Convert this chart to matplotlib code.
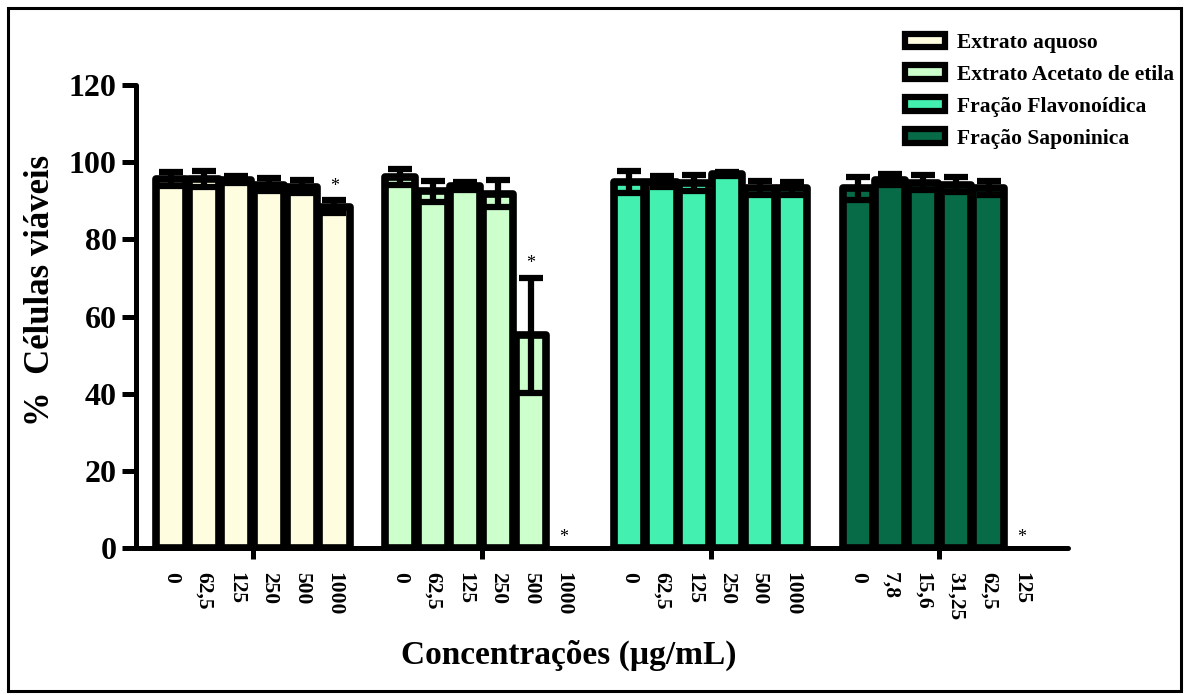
import numpy as np
import matplotlib
matplotlib.use("Agg")
import matplotlib.pyplot as plt
from matplotlib.patches import Patch, Rectangle

# ---- data ----
group_labels = ["Extrato aquoso", "Extrato Acetato de etila",
                "Fração Flavonoídica", "Fração Saponinica"]
conc_aquoso = ["0", "62,5", "125", "250", "500", "1000"]
conc_acetato = ["0", "62,5", "125", "250", "500", "1000"]
conc_flavon = ["0", "62,5", "125", "250", "500", "1000"]
conc_saponin = ["0", "7,8", "15,6", "31,25", "62,5", "125"]

mean_aquoso = [95.6, 95.6, 95.4, 94.2, 93.6, 88.4]
sd_aquoso = [1.8, 2.1, 0.9, 1.7, 1.7, 1.7]
mean_acetato = [96.2, 92.5, 93.8, 91.8, 55.2, 0.0]
sd_acetato = [2.0, 2.7, 1.0, 3.5, 14.9, 0.0]
mean_flavon = [94.9, 94.9, 94.7, 96.9, 93.2, 93.2]
sd_flavon = [2.8, 1.4, 2.1, 0.5, 1.8, 1.6]
mean_saponin = [93.2, 95.5, 94.7, 94.2, 93.3, 0.0]
sd_saponin = [2.9, 1.5, 2.0, 2.0, 1.8, 0.0]

colors = ["#FFFDE0", "#CCFFCC", "#43F0B0", "#066B46"]

# significance marks: (group index, bar index)
stars = [(0, 5), (1, 4), (1, 5), (3, 5)]

all_conc = [conc_aquoso, conc_acetato, conc_flavon, conc_saponin]
all_mean = [mean_aquoso, mean_acetato, mean_flavon, mean_saponin]
all_sd = [sd_aquoso, sd_acetato, sd_flavon, sd_saponin]

SERIF = ["Liberation Serif", "DejaVu Serif"]
plt.rcParams["font.family"] = SERIF
plt.rcParams["font.weight"] = "bold"

W, H = 1184, 695
fig = plt.figure(figsize=(W / 100, H / 100), dpi=100)
ax = fig.add_axes([136 / W, 1 - 548 / H, (1068 - 136) / W, (548 - 85) / H])

step = 7
bar_w = 0.92
positions_all = []
labels_all = []
for gi, (conc, mean, sd, col) in enumerate(zip(all_conc, all_mean, all_sd, colors)):
    x = np.arange(len(conc)) + gi * step
    positions_all.extend(x)
    labels_all.extend(conc)
    m = np.array(mean)
    s = np.array(sd)
    nz = m > 0
    ax.bar(x[nz], m[nz], width=bar_w, color=col, edgecolor="black",
           linewidth=5.5, joinstyle="round", zorder=2,
           label=group_labels[gi])
    ax.errorbar(x[nz], m[nz], yerr=s[nz], fmt="none", ecolor="black",
                elinewidth=4.5, capsize=8.5, capthick=4.5, zorder=3)
    for (g, b) in stars:
        if g == gi:
            if m[b] > 0:
                yy = m[b] + s[b] + 3.6
            else:
                yy = 2.6
            ax.text(x[b], yy, "*", ha="center", va="center",
                    fontsize=13, fontweight="normal", zorder=4)

ax.set_xlim(-1.07, 27.43)
ax.set_ylim(0, 120)
ax.set_yticks(np.arange(0, 121, 20))
ax.tick_params(axis="y", length=10, width=3.6, pad=4, labelsize=23)
for lab in ax.get_yticklabels():
    lab.set_fontweight("bold")

centers = [gi * step + 2.5 for gi in range(4)]
ax.set_xticks(centers)
ax.set_xticklabels([""] * 4)
ax.tick_params(axis="x", which="major", length=8, width=3.6, direction="out")
ax.set_xticks(positions_all, minor=True)
ax.set_xticklabels(labels_all, minor=True, rotation=-90, fontsize=15.5,
                   fontweight="bold")
ax.tick_params(axis="x", which="minor", length=0, pad=17)

for sp in ["top", "right"]:
    ax.spines[sp].set_visible(False)
for sp in ["left", "bottom"]:
    ax.spines[sp].set_linewidth(3.6)
    ax.spines[sp].set_capstyle("round")

fig.text(41 / W, 1 - 290 / H, "%  Células viáveis", rotation=90,
         ha="center", va="center", fontsize=25, fontweight="bold")
fig.text(569 / W, 1 - 655 / H, "Concentrações (µg/mL)",
         ha="center", va="center", fontsize=24, fontweight="bold")

handles = [Patch(facecolor=c, edgecolor="black", linewidth=4.5, joinstyle="round")
           for c in colors]
fig.legend(handles, group_labels, loc="upper left",
           bbox_to_anchor=(905 / W, 1 - 33 / H), frameon=False,
           borderpad=0, borderaxespad=0, handlelength=1.85, handleheight=0.6,
           handletextpad=0.55, labelspacing=0.55,
           prop={"family": SERIF, "weight": "bold", "size": 15.5})

fig.patches.append(Rectangle((8 / W, 4 / H), (1181 - 8) / W, (687 - 4) / H,
                             transform=fig.transFigure, fill=False,
                             edgecolor="black", linewidth=2.2))

fig.savefig("out.png", dpi=100)
